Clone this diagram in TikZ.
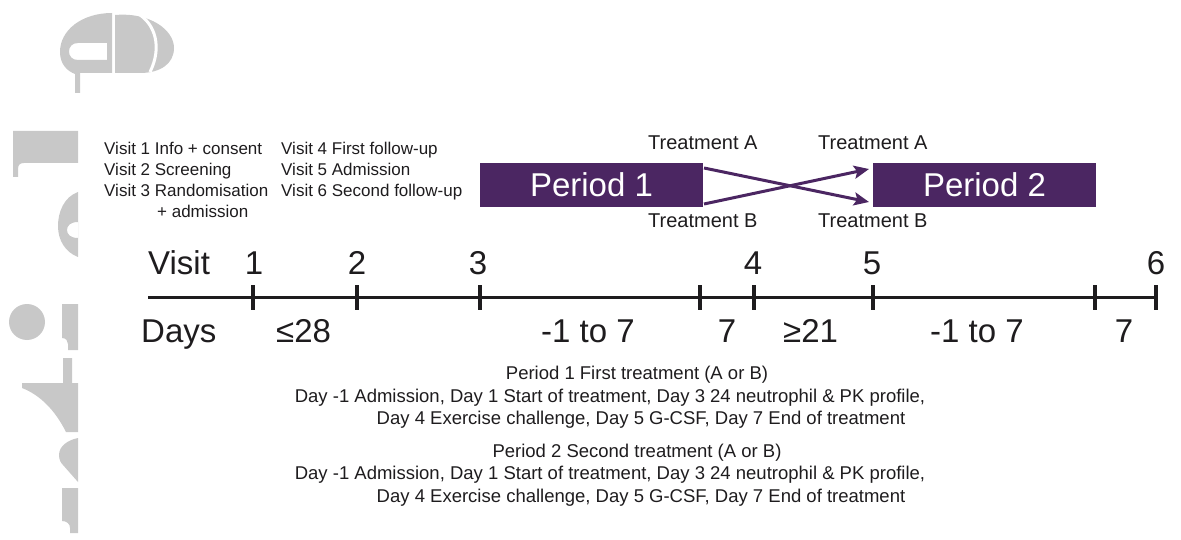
\documentclass[tikz,border=0pt]{standalone}
\usepackage{fontspec}
\setmainfont{Liberation Sans}
\usetikzlibrary{arrows.meta}
\definecolor{purp}{RGB}{75,38,98}
\definecolor{wm}{RGB}{200,200,200}
\definecolor{ink}{RGB}{30,28,30}
\tikzset{
  listtxt/.style={font=\fontsize{17}{20}\selectfont, text=ink, inner sep=0pt, anchor=base west},
  trt/.style={font=\fontsize{20}{24}\selectfont, text=ink, inner sep=0pt, anchor=base west},
  periodbox/.style={fill=purp, text=white, minimum width=223pt, minimum height=44pt, inner sep=0pt, font=\fontsize{33}{36}\selectfont},
  bigtxt/.style={font=\fontsize{33}{36}\selectfont, text=ink, inner sep=0pt, anchor=base},
  bigw/.style={bigtxt, anchor=base west},
  notetxt/.style={font=\fontsize{18.5}{21}\selectfont, text=ink, inner sep=0pt, anchor=base},
  tline/.style={draw=ink, line width=3pt},
  tickmark/.style={draw=ink, line width=3.5pt},
  xarrow/.style={draw=purp, line width=3pt, -{Stealth[length=15pt,width=13pt,inset=3pt]}},
  wmark/.style={fill=wm, draw=none, even odd rule}
}
\begin{document}
\begin{tikzpicture}[x=1pt,y=-1pt]
\useasboundingbox (0,0) rectangle (1181,540);
% watermark fragments
\fill[wmark] (112,13) .. controls (82,13) and (60,30) .. (60,52) .. controls (60,64) and (67,71) .. (75,74) -- (75,93) -- (80,93) -- (80,73) -- (112,73) -- cycle
  (107,43) -- (78,43) .. controls (72,43) and (69,47) .. (69,51.5) .. controls (69,56) and (72,60) .. (78,60) -- (107,60) -- cycle;
\fill[wmark] (115,15) .. controls (150,12) and (174,30) .. (174,48) .. controls (174,64) and (160,73) .. (140,73) -- (115,73) -- cycle;
\draw[white, line width=3pt] (137,13) .. controls (156,24) and (162,48) .. (150,72);
\fill[wmark] (13,131) -- (78,131) -- (78,163) -- (24,163) .. controls (20,163) and (18,165) .. (18,169) -- (18,177) -- (13,177) -- cycle;
\fill[wmark] (78,192) .. controls (64,197) and (58,212) .. (58,226) .. controls (58,240) and (65,252) .. (78,257) -- cycle
  (78,222) .. controls (70,222) and (67,226) .. (67,230) .. controls (67,234) and (70,238) .. (78,238) -- cycle;
\fill[wmark] (27,322) circle[radius=18pt];
\fill[wmark] (62,304) -- (78,304) -- (78,350) -- (68,350) -- (68,344) .. controls (68,341) and (66,338) .. (62,338) -- cycle;
\fill[wmark] (63,358) -- (72,358) -- (72,383) -- (78,383) -- (78,432) -- (66,432) .. controls (55,410) and (40,395) .. (22,388) -- (22,383) -- (63,383) -- cycle;
\fill[wmark] (78,438) .. controls (68,440) and (59,446) .. (59,455) .. controls (59,460) and (61,463) .. (63,465) -- (78,482) -- cycle;
\fill[wmark] (62,488) -- (78,488) -- (78,533) -- (70,533) -- (70,528) .. controls (70,524) and (67,521) .. (62,521) -- cycle;

% visit legend
\node[listtxt] (l1) at (104,155) {Visit 1 Info + consent};
\node[listtxt] (l2) at (104,176) {Visit 2 Screening};
\node[listtxt] (l3) at (104,197) {Visit 3 Randomisation};
\node[listtxt] (l3b) at (157,218) {+ admission};
\node[listtxt] (l4) at (281,155) {Visit 4 First follow-up};
\node[listtxt] (l5) at (281,176) {Visit 5 Admission};
\node[listtxt] (l6) at (281,197) {Visit 6 Second follow-up};

% periods
\node[periodbox] (p1) at (591.5,185) {Period 1};
\node[periodbox] (p2) at (984.5,185) {Period 2};
\node[trt] (ta1) at (648,150) {Treatment A};
\node[trt] (ta2) at (818,150) {Treatment A};
\node[trt] (tb1) at (648,228) {Treatment B};
\node[trt] (tb2) at (818,228) {Treatment B};
\coordinate (a1s) at (704,168);
\coordinate (a1e) at (869,202);
\coordinate (a2s) at (704,204);
\coordinate (a2e) at (869,169);
\draw[xarrow] (a1s) -- (a1e);
\draw[xarrow] (a2s) -- (a2e);

% timeline
\coordinate (t0) at (148,297);
\coordinate (t9) at (1158,297);
\draw[tline] (t0) -- (t9);
\foreach \n/\x in {k1/253,k2/357,k3/480,k3b/700,k4/754,k5/873,k5b/1095,k6/1156}{
  \coordinate (\n a) at (\x,285);
  \coordinate (\n b) at (\x,310);
  \draw[tickmark] (\n a) -- (\n b);
}
\node[bigw] (visit) at (148,274) {Visit};
\node[bigtxt] (v1) at (254,274) {1};
\node[bigtxt] (v2) at (357,274) {2};
\node[bigtxt] (v3) at (478,274) {3};
\node[bigtxt] (v4) at (753,274) {4};
\node[bigtxt] (v5) at (872,274) {5};
\node[bigtxt] (v6) at (1156,274) {6};
\node[bigw] (days) at (141,342) {Days};
\node[bigw] (d1) at (276,342) {≤28};
\node[bigw] (d2) at (541,342) {-1 to 7};
\node[bigtxt] (d3) at (727,342) {7};
\node[bigw] (d4) at (783,342) {≥21};
\node[bigw] (d5) at (930,342) {-1 to 7};
\node[bigtxt] (d6) at (1124,342) {7};

% descriptions
\node[notetxt] (n1) at (637,379.5) {Period 1 First treatment (A or B)};
\node[notetxt] (n2) at (610,402.5) {Day -1 Admission, Day 1 Start of treatment, Day 3 24 neutrophil \& PK profile,};
\node[notetxt] (n3) at (641,424.5) {Day 4 Exercise challenge, Day 5 G-CSF, Day 7 End of treatment};
\node[notetxt] (n4) at (637,457.5) {Period 2 Second treatment (A or B)};
\node[notetxt] (n5) at (610,479.5) {Day -1 Admission, Day 1 Start of treatment, Day 3 24 neutrophil \& PK profile,};
\node[notetxt] (n6) at (641,502.5) {Day 4 Exercise challenge, Day 5 G-CSF, Day 7 End of treatment};
\end{tikzpicture}
\end{document}
